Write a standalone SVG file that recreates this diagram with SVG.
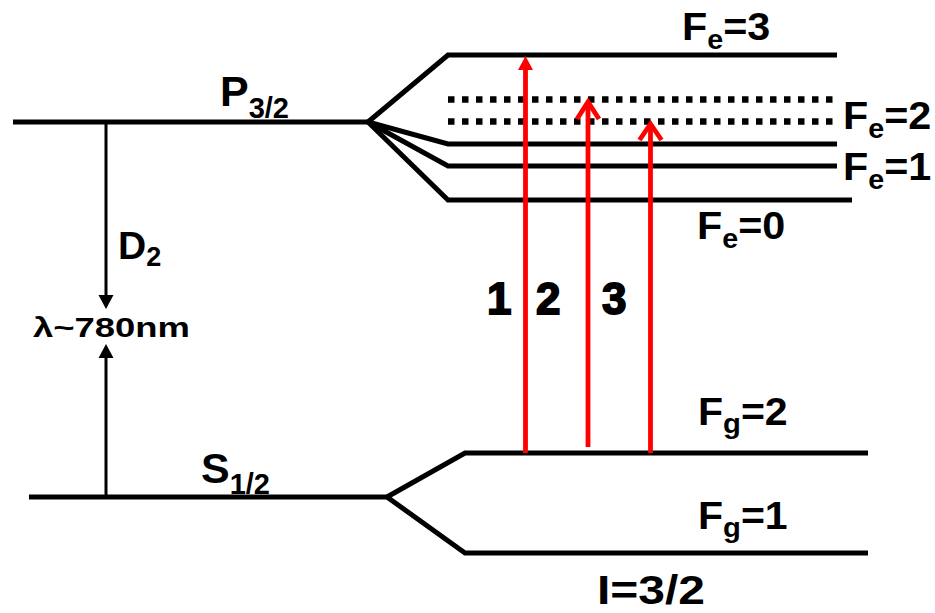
<svg xmlns="http://www.w3.org/2000/svg" width="935" height="613" viewBox="0 0 935 613">
<defs>
<style>
.lvl{fill:none;stroke:#000;stroke-width:5;stroke-linejoin:miter}
.dot{fill:none;stroke:#000;stroke-width:6.5;stroke-dasharray:6.5 7.5}
.blk{fill:none;stroke:#000;stroke-width:3}
.red{fill:none;stroke:#ff0000;stroke-width:4.8}
.chev{fill:none;stroke:#ff0000;stroke-width:4.8;stroke-linejoin:miter;stroke-linecap:butt}
text{font-family:"Liberation Sans",Arial,Helvetica,sans-serif;font-weight:bold;fill:#000}
.big{font-size:39px}
.sub{font-size:27px}
.num{font-size:44px;stroke:#000;stroke-width:1.8}
</style>
</defs>
<rect width="935" height="613" fill="#fff"/>

<g id="P32">
<polyline class="lvl" points="13,122 368,122"/>
<text transform="translate(220,106)" style="font-size:43px">P<tspan dy="12" style="font-size:29px">3/2</tspan></text>
</g>
<g id="Fe3">
<polyline class="lvl" points="368,122 448,55 837,55"/>
<text transform="translate(682,40) scale(1.06,1)" class="big">F<tspan class="sub" dy="9">e</tspan><tspan dy="-9">=3</tspan></text>
</g>
<g id="Fe2">
<line class="dot" x1="448" y1="99.5" x2="837" y2="99.5"/>
<line class="dot" x1="448" y1="121.5" x2="837" y2="121.5"/>
<text transform="translate(843,129) scale(1.06,1)" class="big">F<tspan class="sub" dy="9">e</tspan><tspan dy="-9">=2</tspan></text>
</g>
<g id="Fe1">
<polyline class="lvl" points="368,122 448,144 837,144"/>
<polyline class="lvl" points="368,122 448,166 837,166"/>
<text transform="translate(843,180) scale(1.06,1)" class="big">F<tspan class="sub" dy="9">e</tspan><tspan dy="-9">=1</tspan></text>
</g>
<g id="Fe0">
<polyline class="lvl" points="368,122 448,200 852,200"/>
<text transform="translate(697,239) scale(1.06,1)" class="big">F<tspan class="sub" dy="9">e</tspan><tspan dy="-9">=0</tspan></text>
</g>

<g id="S12">
<polyline class="lvl" points="29,497 387,497"/>
<text transform="translate(201,483)" style="font-size:43px">S<tspan dy="11" style="font-size:29px">1/2</tspan></text>
</g>
<g id="Fg2">
<polyline class="lvl" points="387,497 465,453 868,453"/>
<text transform="translate(698,425) scale(1.08,1)" style="font-size:38px">F<tspan class="sub" dy="8">g</tspan><tspan dy="-8">=2</tspan></text>
</g>
<g id="Fg1">
<polyline class="lvl" points="387,497 465,553 868,553"/>
<text transform="translate(698,529) scale(1.08,1)" style="font-size:38px">F<tspan class="sub" dy="8">g</tspan><tspan dy="-8">=1</tspan></text>
</g>
<g id="I32">
<text x="597" y="604" style="font-size:41px" textLength="108" lengthAdjust="spacingAndGlyphs">I=3/2</text>
</g>

<g id="D2label">
<text transform="translate(118,259)" class="big">D<tspan class="sub" dy="7">2</tspan></text>
<text x="33" y="337" style="font-size:28px" textLength="157" lengthAdjust="spacingAndGlyphs">λ~780nm</text>
</g>

<g id="transitionLabels">
<text class="num" x="487" y="314">1</text>
<text class="num" x="536" y="314">2</text>
<text class="num" x="602" y="314">3</text>
</g>

<g id="connectors">
<line class="blk" x1="106" y1="122" x2="106" y2="296"/>
<polygon points="98.5,295 113.5,295 106,309" fill="#000"/>
<line class="blk" x1="106" y1="497" x2="106" y2="358"/>
<polygon points="98.5,358 113.5,358 106,344" fill="#000"/>
<line class="red" x1="525.5" y1="453" x2="525.5" y2="68"/>
<polygon points="518,70 533,70 525.5,56" fill="#ff0000"/>
<line class="red" x1="588" y1="447" x2="588" y2="103"/>
<polyline class="chev" points="577,119 588,102 599,119"/>
<line class="red" x1="650.5" y1="453" x2="650.5" y2="125"/>
<polyline class="chev" points="639.5,140 650.5,124 661.5,140"/>
</g>
</svg>
